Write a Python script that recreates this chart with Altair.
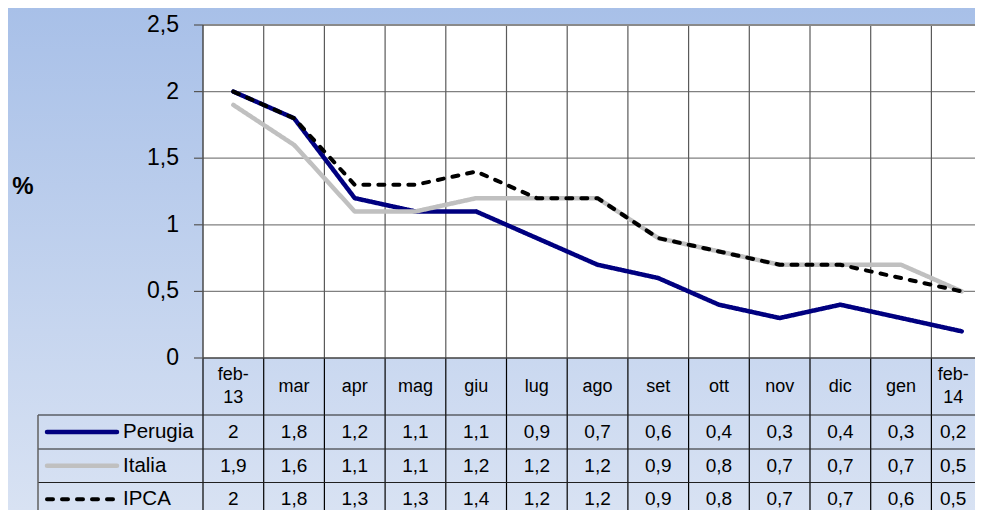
import altair as alt
import pandas as pd

# ---------------- data ----------------
categories = ["feb-\n13", "mar", "apr", "mag", "giu", "lug", "ago", "set",
              "ott", "nov", "dic", "gen", "feb-\n14"]
series_names = ["Perugia", "Italia", "IPCA"]
perugia = [2, 1.8, 1.2, 1.1, 1.1, 0.9, 0.7, 0.6, 0.4, 0.3, 0.4, 0.3, 0.2]
italia = [1.9, 1.6, 1.1, 1.1, 1.2, 1.2, 1.2, 0.9, 0.8, 0.7, 0.7, 0.7, 0.5]
ipca = [2, 1.8, 1.3, 1.3, 1.4, 1.2, 1.2, 0.9, 0.8, 0.7, 0.7, 0.6, 0.5]
y_ticks = [0, 0.5, 1, 1.5, 2, 2.5]
y_tick_labels = ["0", "0,5", "1", "1,5", "2", "2,5"]
axis_title = "%"

# ---------------- style / layout ----------------
series_colors = ["#000080", "#C0C0C0", "#000000"]
series_dash = [[1, 0], [1, 0], [6, 9]]
series_width = [4.5, 4.5, 4]
FONT = "Liberation Sans"

MARGIN = 8
W, H = 967, 502                 # chart (view) size in px
PLOT_LEFT = 203                 # page px of plot left edge
COL_W = 60.7                    # px per category column
ZERO_Y = 358                    # page px of value 0
UNIT = 133.2                    # px per 1 unit of value
ROW_EDGES = [358, 415, 449, 482.5, 516]   # page px of table row borders
LEG_LEFT = 38
CAT_LINE_H = 23


def xv(px):
    return (px - PLOT_LEFT) / COL_W


def yv(py):
    return (ZERO_Y - py) / UNIT


XD = [xv(MARGIN), xv(MARGIN + W)]
YD = [yv(MARGIN + H), yv(MARGIN)]
XS = alt.Scale(domain=XD, nice=False, zero=False)
YS = alt.Scale(domain=YD, nice=False, zero=False)

n = len(categories)
ymax = max(y_ticks)
series_values = [perugia, italia, ipca]

# text x-positions: column centres, the partly visible last column centred in its visible part
text_x = [min(i + 0.5, (i + XD[1]) / 2) for i in range(n)]


def X(f="x"):
    return alt.X(f"{f}:Q", scale=XS, axis=None)


def Y(f="y"):
    return alt.Y(f"{f}:Q", scale=YS, axis=None)


gradient = alt.LinearGradient(
    gradient="linear",
    stops=[alt.GradientStop(color="#A8C0E8", offset=0),
           alt.GradientStop(color="#D8E2F3", offset=1)],
    x1=0, x2=0, y1=0, y2=1,
)

# gradient background
bg = alt.Chart(pd.DataFrame({"x": [XD[0]], "x2": [XD[1]], "y": [YD[0]], "y2": [YD[1]]})).mark_rect(
    fill=gradient, stroke=None
).encode(x=X(), x2="x2:Q", y=Y(), y2="y2:Q")

# white plot area
plot_bg = alt.Chart(pd.DataFrame({"x": [0], "x2": [n], "y": [0], "y2": [ymax]})).mark_rect(
    fill="white", stroke=None
).encode(x=X(), x2="x2:Q", y=Y(), y2="y2:Q")

# horizontal gridlines
hgrid = alt.Chart(pd.DataFrame({"y": y_ticks[1:-1], "x": 0, "x2": n})).mark_rule(
    color="#808080", strokeWidth=1.2
).encode(x=X(), x2="x2:Q", y=Y())
top_border = alt.Chart(pd.DataFrame({"y": [ymax], "x": 0, "x2": n})).mark_rule(
    color="#8A8A8A", strokeWidth=2
).encode(x=X(), x2="x2:Q", y=Y())

# vertical gridlines in plot
vgrid = alt.Chart(pd.DataFrame({"x": list(range(1, n)), "y": 0, "y2": ymax})).mark_rule(
    color="#5A5A5A", strokeWidth=1.2
).encode(x=X(), y=Y(), y2="y2:Q")

# y axis line + ticks
yaxis = alt.Chart(pd.DataFrame({"x": [0], "y": 0, "y2": ymax})).mark_rule(
    color="#4A4A4A", strokeWidth=1.5
).encode(x=X(), y=Y(), y2="y2:Q")
yticks = alt.Chart(pd.DataFrame({"y": y_ticks, "x": xv(194), "x2": 0})).mark_rule(
    color="#555555", strokeWidth=1.2
).encode(x=X(), x2="x2:Q", y=Y())
ylabels = alt.Chart(pd.DataFrame({"y": y_ticks, "t": y_tick_labels, "x": xv(179)})).mark_text(
    align="right", baseline="middle", font=FONT, fontSize=23, color="black"
).encode(x=X(), y=Y(), text="t:N")
ytitle = alt.Chart(pd.DataFrame({"t": [axis_title], "x": [xv(23)], "y": [yv(187)]})).mark_text(
    align="center", baseline="middle", font=FONT, fontSize=24, fontWeight="bold", color="black"
).encode(x=X(), y=Y(), text="t:N")

# table borders
bottom = yv(MARGIN + H + 10)
tv = alt.Chart(pd.DataFrame({"x": list(range(0, n + 1)), "y": 0, "y2": bottom})).mark_rule(
    color="#000000", strokeWidth=1.2
).encode(x=X(), y=Y(), y2="y2:Q")
tleft = alt.Chart(pd.DataFrame({"x": [xv(LEG_LEFT)], "y": yv(ROW_EDGES[1]), "y2": bottom})).mark_rule(
    color="#606060", strokeWidth=1.5
).encode(x=X(), y=Y(), y2="y2:Q")
taxis = alt.Chart(pd.DataFrame({"y": [0], "x": 0, "x2": n})).mark_rule(
    color="#404040", strokeWidth=1.5
).encode(x=X(), x2="x2:Q", y=Y())
th = alt.Chart(pd.DataFrame({"y": [yv(r) for r in ROW_EDGES[1:4]], "x": xv(LEG_LEFT), "x2": n})).mark_rule(
    color="#202020", strokeWidth=1.2
).encode(x=X(), x2="x2:Q", y=Y())

# category labels (multi-line labels centred as a block in the row)
cat_mid = (ROW_EDGES[0] + ROW_EDGES[1]) / 2
cat_y = [yv(cat_mid - (c.count("\n")) * CAT_LINE_H / 2) for c in categories]
cat_df = pd.DataFrame({"x": text_x, "t": categories, "y": cat_y})
cat_text = alt.Chart(cat_df).mark_text(
    align="center", baseline="middle", font=FONT, fontSize=18, lineBreak="\n",
    lineHeight=CAT_LINE_H, color="black"
).encode(x=X(), y=Y(), text="t:N")

layers = [bg, plot_bg, hgrid, vgrid, top_border, tv, taxis, th, tleft, yaxis, yticks, ylabels, ytitle, cat_text]

# lines + table rows + legend keys
for k, (name, vals) in enumerate(zip(series_names, series_values)):
    ldf = pd.DataFrame({"x": [i + 0.5 for i in range(n)], "y": vals})
    layers.append(
        alt.Chart(ldf).mark_line(
            color=series_colors[k], strokeWidth=series_width[k], strokeDash=series_dash[k],
            strokeCap="round", strokeJoin="round"
        ).encode(x=X(), y=Y())
    )
    ry = yv((ROW_EDGES[k + 1] + ROW_EDGES[k + 2]) / 2)
    tdf = pd.DataFrame({"x": text_x,
                        "t": [f"{v:g}".replace(".", ",") for v in vals], "y": ry})
    layers.append(
        alt.Chart(tdf).mark_text(align="center", baseline="middle", font=FONT, fontSize=19,
                                 color="black").encode(x=X(), y=Y(), text="t:N")
    )
    kdf = pd.DataFrame({"x": [xv(47)], "x2": [xv(117)], "y": [ry]})
    layers.append(
        alt.Chart(kdf).mark_rule(color=series_colors[k], strokeWidth=series_width[k],
                                 strokeDash=series_dash[k], strokeCap="round").encode(
            x=X(), x2="x2:Q", y=Y())
    )
    ndf = pd.DataFrame({"x": [xv(123)], "t": [name], "y": [ry]})
    layers.append(
        alt.Chart(ndf).mark_text(align="left", baseline="middle", font=FONT, fontSize=20.5,
                                 color="black").encode(x=X(), y=Y(), text="t:N")
    )

chart = alt.layer(*layers).properties(
    width=W, height=H, autosize="none", padding=0, background="#C0D0EC"
).configure_view(stroke=None)

chart.save("out.html", embed_options={"renderer": "svg", "actions": False})
